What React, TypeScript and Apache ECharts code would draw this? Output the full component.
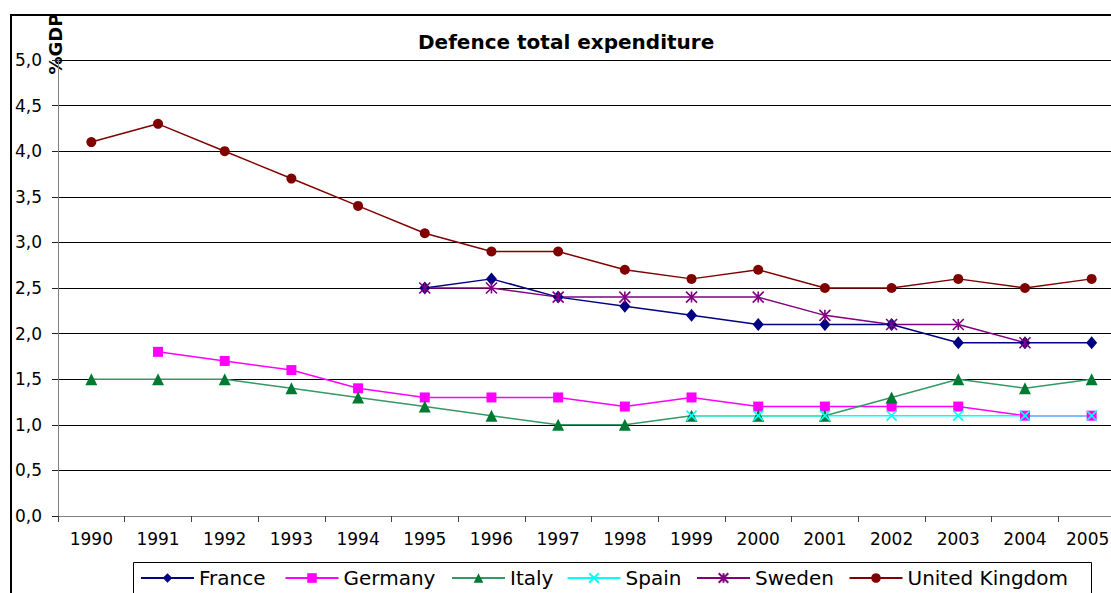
import React, { useEffect, useRef } from "react";
import * as echarts from "echarts";

const years = ["1990","1991","1992","1993","1994","1995","1996","1997","1998","1999","2000","2001","2002","2003","2004","2005"];
const france = [null, null, null, null, null, 2.5, 2.6, 2.4, 2.3, 2.2, 2.1, 2.1, 2.1, 1.9, 1.9, 1.9];
const germany = [null, 1.8, 1.7, 1.6, 1.4, 1.3, 1.3, 1.3, 1.2, 1.3, 1.2, 1.2, 1.2, 1.2, 1.1, 1.1];
const italy = [1.5, 1.5, 1.5, 1.4, 1.3, 1.2, 1.1, 1.0, 1.0, 1.1, 1.1, 1.1, 1.3, 1.5, 1.4, 1.5];
const spain = [null, null, null, null, null, null, null, null, null, 1.1, 1.1, 1.1, 1.1, 1.1, 1.1, 1.1];
const sweden = [null, null, null, null, null, 2.5, 2.5, 2.4, 2.4, 2.4, 2.4, 2.2, 2.1, 2.1, 1.9, null];
const uk = [4.1, 4.3, 4.0, 3.7, 3.4, 3.1, 2.9, 2.9, 2.7, 2.6, 2.7, 2.5, 2.5, 2.6, 2.5, 2.6];

const FONT = "DejaVu Sans";

function mk(name: string, data: (number | null)[], color: string, symbol: string, size: number | number[], markerColor?: string, stroked?: boolean) {
  return {
    name,
    type: "line",
    data,
    symbol,
    symbolSize: size,
    showSymbol: true,
    connectNulls: false,
    lineStyle: { color, width: 1.5 },
    itemStyle: stroked
      ? { color: markerColor || color, borderColor: markerColor || color, borderWidth: 1.6 }
      : { color: markerColor || color, borderWidth: 0 },
    emphasis: { disabled: true },
  };
}

export default function App() {
  const ref = useRef<HTMLDivElement>(null);
  useEffect(() => {
    if (!ref.current) return;
    const chart = echarts.init(ref.current, undefined, { renderer: "svg" });
    const xData = years.map((y, i) =>
      i === years.length - 1 ? { value: y, textStyle: { padding: [0, 8, 0, 0] } } : y
    );
    chart.setOption({
      animation: false,
      backgroundColor: "#ffffff",
      title: {
        text: "Defence total expenditure",
        left: 418,
        top: 32,
        padding: 0,
        textStyle: { fontFamily: FONT, fontWeight: "bold", fontSize: 20, color: "#000" },
      },
      grid: { left: 58, top: 60, width: 1067, height: 456, containLabel: false },
      xAxis: {
        type: "category",
        data: xData,
        boundaryGap: true,
        axisLine: { lineStyle: { color: "#808080", width: 1 } },
        axisTick: { show: true, length: 6, alignWithLabel: false, lineStyle: { color: "#404040" } },
        axisLabel: { fontFamily: FONT, fontSize: 17, color: "#000", margin: 14, interval: 0 },
        splitLine: { show: false },
      },
      yAxis: {
        type: "value",
        min: 0,
        max: 5,
        interval: 0.5,
        axisLine: { show: true, lineStyle: { color: "#808080", width: 1 } },
        axisTick: { show: true, length: 6, lineStyle: { color: "#202020" } },
        axisLabel: {
          fontFamily: FONT,
          fontSize: 17,
          color: "#000",
          margin: 16,
          formatter: (v: number) => v.toFixed(1).replace(".", ","),
        },
        splitLine: { show: true, lineStyle: { color: "#000", width: 1 } },
      },
      legend: {
        left: 140,
        top: 568,
        padding: 0,
        itemWidth: 53,
        itemHeight: 12,
        itemGap: 12.5,
        textStyle: { fontFamily: FONT, fontSize: 20, color: "#000", lineHeight: 20 },
        data: [
          { name: "France", textStyle: { width: 73 } },
          { name: "Germany", textStyle: { width: 95 } },
          { name: "Italy", textStyle: { width: 44 } },
          { name: "Spain", textStyle: { width: 58 } },
          { name: "Sweden", textStyle: { width: 81 } },
          { name: "United Kingdom", textStyle: { width: 171 } },
        ],
      },
      graphic: [
        {
          type: "rect",
          z: -10,
          shape: { x: 11, y: 15, width: 1300, height: 800 },
          style: { fill: "none", stroke: "#000", lineWidth: 2 },
          silent: true,
        },
        {
          type: "rect",
          z: -5,
          shape: { x: 133.5, y: 562.5, width: 958, height: 80 },
          style: { fill: "#fff", stroke: "#000", lineWidth: 1 },
          silent: true,
        },
        {
          type: "text",
          x: 55,
          y: 44,
          rotation: Math.PI / 2,
          style: {
            text: "%GDP",
            align: "center",
            verticalAlign: "middle",
            font: `bold 18px "${FONT}"`,
            fill: "#000",
          },
          silent: true,
        },
      ],
      series: [
        mk("France", france, "#000080", "diamond", [11, 13]),
        mk("Germany", germany, "#FF00FF", "rect", 10),
        mk("Italy", italy, "#339966", "triangle", 12, "#007a33"),
        mk("Spain", spain, "#00FFFF", "path://M0,0L10,10M10,0L0,10", 10, "#00FFFF", true),
        mk("Sweden", sweden, "#800080", "path://M5,0L5,10M0,0L10,10M10,0L0,10", 11, "#800080", true),
        mk("United Kingdom", uk, "#800000", "circle", 10),
      ],
    });
    return () => chart.dispose();
  }, []);
  return (
    <div
      ref={ref}
      style={{ position: "fixed", left: 0, top: 0, width: 1140, height: 593, background: "#fff" }}
    />
  );
}
